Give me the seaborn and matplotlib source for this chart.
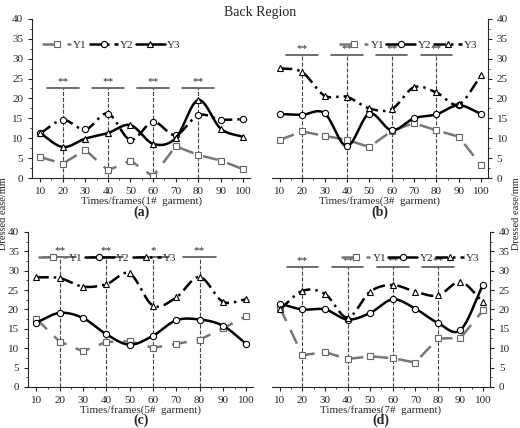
import numpy as np
import pandas as pd
import seaborn as sns
import matplotlib.pyplot as plt
from matplotlib.ticker import MultipleLocator

sns.set_style('ticks')
plt.rcParams['font.family'] = ['Liberation Serif', 'DejaVu Serif']

frames = [10, 20, 30, 40, 50, 60, 70, 80, 90, 100]
garments = ['1#', '3#', '5#', '7#']
panel_tags = ['(a)', '(b)', '(c)', '(d)']

y1 = {
    '1#': [5.3, 3.6, 7.1, 1.9, 4.4, 0.4, 8.0, 5.8, 4.4, 2.2],
    '3#': [9.6, 11.7, 10.6, 9.6, 7.8, 11.8, 13.8, 12.0, 10.4, 3.2],
    '5#': [17.6, 11.7, 9.2, 11.6, 11.8, 10.1, 11.1, 12.2, 15.1, 18.3],
    '7#': [20.5, 8.2, 9.0, 7.2, 7.9, 7.4, 6.3, 12.5, 12.6, 19.8],
}
y2 = {
    '1#': [11.2, 14.6, 12.2, 16.2, 9.6, 14.1, 10.8, 15.8, 14.7, 14.8],
    '3#': [16.1, 15.9, 16.3, 8.0, 16.2, 12.0, 15.0, 16.0, 18.3, 16.1],
    '5#': [16.6, 19.1, 17.8, 13.6, 10.9, 13.2, 17.2, 17.4, 15.8, 11.1],
    '7#': [21.5, 20.0, 20.0, 17.4, 19.1, 22.6, 20.2, 16.5, 14.7, 26.4],
}
y3 = {
    '1#': [11.3, 7.8, 9.9, 11.3, 13.3, 8.6, 10.0, 19.6, 12.4, 10.3],
    '3#': [27.6, 26.6, 20.7, 20.4, 17.5, 17.3, 22.8, 21.5, 18.5, 25.8],
    '5#': [28.3, 28.1, 25.9, 26.5, 29.3, 21.0, 23.1, 28.4, 22.0, 22.6],
    '7#': [20.0, 24.8, 24.0, 17.9, 24.6, 26.3, 24.6, 23.6, 27.1, 21.9],
}
sig_frames = [20, 40, 60, 80]
sig_marks = {
    '1#': ['**', '**', '**', '**'],
    '3#': ['**', '**', '**', '**'],
    '5#': ['**', '**', '*', '**'],
    '7#': ['**', '**', '**', '**'],
}
sig_level = {'1#': 22.6, '3#': 31.0, '5#': 33.5, '7#': 31.0}


def smooth(x, y, n=20):
    # Catmull-Rom curve through the data points
    x = np.asarray(x, float)
    y = np.asarray(y, float)
    px = np.concatenate([[2 * x[0] - x[1]], x, [2 * x[-1] - x[-2]]])
    py = np.concatenate([[2 * y[0] - y[1]], y, [2 * y[-1] - y[-2]]])
    t = np.linspace(0, 1, n)[:, None]
    xs, ys = [], []
    for i in range(1, len(px) - 2):
        for p, out in ((px, xs), (py, ys)):
            p0, p1, p2, p3 = p[i - 1], p[i], p[i + 1], p[i + 2]
            out.append((0.5 * (2 * p1 + (-p0 + p2) * t + (2 * p0 - 5 * p1 + 4 * p2 - p3) * t ** 2
                               + (-p0 + 3 * p1 - 3 * p2 + p3) * t ** 3)).ravel())
    return np.concatenate(xs), np.concatenate(ys)


fig = plt.figure(figsize=(5.2, 4.28), dpi=100)
boxes = [[0.062, 0.584, 0.419, 0.372], [0.523, 0.584, 0.415, 0.372],
         [0.054, 0.096, 0.433, 0.362], [0.523, 0.096, 0.419, 0.362]]

for k, g in enumerate(garments):
    ax = fig.add_axes(boxes[k])
    right = k in (1, 3)
    df = pd.DataFrame({'frame': frames, 'Y1': y1[g], 'Y2': y2[g], 'Y3': y3[g]})

    # significance brackets
    for f, m in zip(sig_frames, sig_marks[g]):
        ax.plot([f, f], [0, sig_level[g]], color='#444444', ls='--', lw=0.8)
        ax.plot([f - 7, f + 7], [sig_level[g], sig_level[g]], color='#555555', lw=1.2)
        ax.text(f, sig_level[g] + 0.5, m, ha='center', va='bottom', fontsize=8)

    if k == 0:
        styles = {'Y1': ('s', '#777777', (0, (6, 4)), False),
                  'Y2': ('o', 'black', (0, (5, 2, 1, 2)), True),
                  'Y3': ('^', 'black', '-', True)}
    else:
        styles = {'Y1': ('s', '#777777', (0, (6, 4)), False),
                  'Y2': ('o', 'black', '-', True),
                  'Y3': ('^', 'black', (0, (5, 2, 1, 2)), True)}

    for name, (mk, col, ls, sm) in styles.items():
        mec = '#666666' if name == 'Y1' else 'black'
        if sm:
            sx, sy = smooth(df['frame'], df[name])
            ax.plot(sx, sy, color=col, ls=ls, lw=1.8)
        else:
            sns.lineplot(data=df, x='frame', y=name, ax=ax, color=col, ls=ls, lw=1.8)
        ax.plot(df['frame'], df[name], ls='none', marker=mk, ms=4.5, mfc='white',
                mec=mec, mew=0.8)
        ax.plot([], [], color=col, ls=ls, lw=1.8, marker=mk, ms=4.5, mfc='white',
                mec=mec, mew=0.8, label=name)

    ax.legend(ncol=3, loc='upper right' if right else 'upper left', frameon=False,
              fontsize=8, handlelength=2.6, columnspacing=0.2, handletextpad=0.2,
              bbox_to_anchor=(1.0, 0.93) if right else (0.0, 0.93))
    ax.set_xlim(6.5, 103)
    ax.set_ylim(0, 40)
    ax.set_xticks(frames)
    ax.xaxis.set_minor_locator(MultipleLocator(5))
    ax.yaxis.set_major_locator(MultipleLocator(5))
    ax.yaxis.set_minor_locator(MultipleLocator(2.5))
    ax.tick_params(labelsize=8, length=3, width=0.8)
    ax.tick_params(which='minor', length=1.5)
    ax.set_xlabel(f'Times/frames({g}  garment)', fontsize=8, labelpad=0)
    ax.set_ylabel('')
    ax.spines['top'].set_visible(False)
    if right:
        ax.spines['left'].set_visible(False)
        ax.yaxis.tick_right()
    else:
        ax.spines['right'].set_visible(False)
    ax.text(0.5, -0.17, panel_tags[k], transform=ax.transAxes, ha='center', va='top',
            fontsize=10, fontweight='bold')

fig.text(0.5, 0.985, 'Back Region', ha='center', va='top', fontsize=10)
fig.text(0.007, 0.5, 'Dressed ease/mm', rotation=90, ha='center', va='center', fontsize=7.5)
fig.text(0.993, 0.5, 'Dressed ease/mm', rotation=90, ha='center', va='center', fontsize=7.5)

fig.savefig('out.png', dpi=100)
